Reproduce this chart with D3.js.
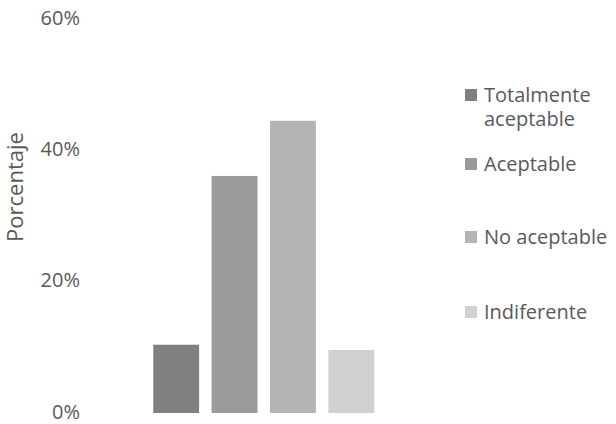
<!DOCTYPE html>
<html>
<head>
<meta charset="utf-8">
<script src="https://cdn.jsdelivr.net/npm/d3@7"></script>
<style>
  body { margin: 0; background: #fff; }
  text { font-family: "Open Sans", sans-serif; fill: #595959; }
</style>
</head>
<body>
<script>
// categories and values
var categories = ["Totalmente aceptable", "Aceptable", "No aceptable", "Indiferente"];
var values = [10.4, 36.1, 44.5, 9.6];
var colors = ["#808080", "#9a9a9a", "#b4b4b4", "#d0d0d0"];
var yTicks = [0, 20, 40, 60];

var w = 616, h = 424;

var svg = d3.select("body").append("svg")
    .attr("width", w)
    .attr("height", h);

// y scale: 0% sits on 413, 60% on 19
var y = d3.scaleLinear()
    .domain([0, 60])
    .range([413, 19]);

var x = d3.scaleBand()
    .domain(categories)
    .range([147, 380.5])
    .paddingInner(0.214)
    .paddingOuter(0.107);

// axis with no line, just labels
var yAxis = d3.axisLeft(y)
    .tickValues(yTicks)
    .tickSize(0)
    .tickPadding(0)
    .tickFormat(function(d){ return d + "%"; });

var axis = svg.append("g")
    .attr("transform", "translate(80,0)")
    .call(yAxis);
axis.select(".domain").remove();
axis.selectAll("text")
    .attr("dy", "0.26em")
    .style("font-size", "20px")
    .style("fill", "#595959");

// y axis title
svg.append("text")
    .attr("transform", "translate(15,187) rotate(-90)")
    .attr("text-anchor", "middle")
    .attr("dy", "0.35em")
    .style("font-size", "22px")
    .text("Porcentaje");

// bars
svg.selectAll(".bar")
    .data(values)
    .enter()
    .append("rect")
    .attr("class", "bar")
    .attr("x", function(d, i){ return x(categories[i]); })
    .attr("width", x.bandwidth())
    .attr("y", function(d){ return y(d); })
    .attr("height", function(d){ return y(0) - y(d); })
    .style("fill", function(d, i){ return colors[i]; });

// legend
var legendY = [95, 164, 237, 312];
var legend = svg.selectAll(".legend")
    .data(categories)
    .enter()
    .append("g")
    .attr("class", "legend")
    .attr("transform", function(d, i){ return "translate(465," + legendY[i] + ")"; });

legend.append("rect")
    .attr("x", 0)
    .attr("y", -6)
    .attr("width", 12)
    .attr("height", 12)
    .style("fill", function(d, i){ return colors[i]; });

legend.append("text")
    .attr("x", 19)
    .attr("dy", "0.35em")
    .style("font-size", "20px")
    .each(function(d){
        var t = d3.select(this);
        if (d === "Totalmente aceptable") {
            t.append("tspan").attr("x", 19).text("Totalmente");
            t.append("tspan").attr("x", 19).attr("dy", "24").text("aceptable");
        } else {
            t.text(d);
        }
    });
</script>
</body>
</html>
